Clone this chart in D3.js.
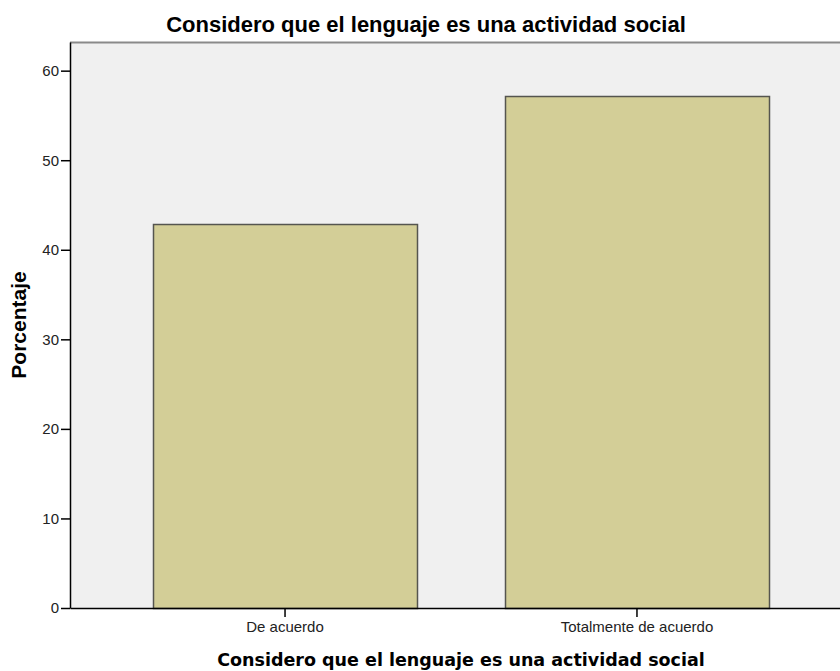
<!DOCTYPE html>
<html>
<head>
<meta charset="utf-8">
<script src="https://cdn.jsdelivr.net/npm/d3@7"></script>
<style>
  html, body { margin: 0; padding: 0; background: #ffffff; }
  svg { display: block; }
</style>
</head>
<body>
<svg id="chart" width="840" height="671"></svg>
<script>
const categories = ["De acuerdo", "Totalmente de acuerdo"];
const percentages = [42.86, 57.14];
const yTicks = [0, 10, 20, 30, 40, 50, 60];
const titleText = "Considero que el lenguaje es una actividad social";
const xLabelText = "Considero que el lenguaje es una actividad social";
const yLabelText = "Porcentaje";

const svg = d3.select("#chart");
const plot = { left: 70, top: 42, right: 852, bottom: 608 };

const x = d3.scaleBand()
  .domain(categories)
  .range([plot.left, plot.right])
  .paddingInner(0.25)
  .paddingOuter(0.236);

const y = d3.scaleLinear()
  .domain([0, 63.2])
  .range([plot.bottom, plot.top]);

// plot background
svg.append("rect")
  .attr("x", plot.left).attr("y", plot.top)
  .attr("width", plot.right - plot.left)
  .attr("height", plot.bottom - plot.top)
  .attr("fill", "#f0f0f0");

// top border
svg.append("line")
  .attr("x1", plot.left).attr("x2", plot.right)
  .attr("y1", plot.top + 0.5).attr("y2", plot.top + 0.5)
  .attr("stroke", "#8a8a8a").attr("stroke-width", 2);

// bars
svg.append("g").selectAll("rect")
  .data(categories)
  .join("rect")
  .attr("x", d => Math.round(x(d)) + 0.5)
  .attr("y", (d, i) => Math.round(y(percentages[i])) + 0.5)
  .attr("width", Math.round(x.bandwidth()))
  .attr("height", (d, i) => Math.round(y(0)) - Math.round(y(percentages[i])))
  .attr("fill", "#d3ce97")
  .attr("stroke", "#55554f")
  .attr("stroke-width", 1.5);

// y axis
const yAxis = svg.append("g")
  .attr("transform", `translate(${plot.left},0)`)
  .call(d3.axisLeft(y).tickValues(yTicks).tickSize(9).tickSizeOuter(0).tickPadding(2).tickFormat(d3.format("d")));
yAxis.select(".domain").attr("stroke", "#000").attr("stroke-width", 1.5);
yAxis.selectAll(".tick line").attr("stroke", "#000").attr("stroke-width", 1.5);
yAxis.selectAll(".tick text")
  .attr("font-family", "'Liberation Sans', Arial, sans-serif")
  .attr("font-size", 15).attr("fill", "#222");

// x axis
const xAxis = svg.append("g")
  .attr("transform", `translate(0,${plot.bottom})`)
  .call(d3.axisBottom(x).tickSize(9).tickPadding(4).tickSizeOuter(0));
xAxis.select(".domain").attr("stroke", "#000").attr("stroke-width", 1.5);
xAxis.selectAll(".tick line").attr("stroke", "#000").attr("stroke-width", 1.5);
xAxis.selectAll(".tick text")
  .attr("font-family", "'Liberation Sans', Arial, sans-serif")
  .attr("font-size", 15).attr("fill", "#222");

// title
svg.append("text")
  .attr("x", 426).attr("y", 32)
  .attr("text-anchor", "middle")
  .attr("font-family", "'Liberation Sans', Arial, sans-serif")
  .attr("font-weight", "bold")
  .attr("font-size", 22)
  .attr("fill", "#000")
  .text(titleText);

// x axis label
svg.append("text")
  .attr("x", (plot.left + plot.right) / 2).attr("y", 666)
  .attr("text-anchor", "middle")
  .attr("font-family", "'DejaVu Sans', Verdana, sans-serif")
  .attr("font-weight", "bold")
  .attr("font-size", 17.5)
  .attr("fill", "#000")
  .text(xLabelText);

// y axis label
svg.append("text")
  .attr("transform", `translate(26,${(plot.top + plot.bottom) / 2}) rotate(-90)`)
  .attr("text-anchor", "middle")
  .attr("font-family", "'Liberation Sans', Arial, sans-serif")
  .attr("font-weight", "bold")
  .attr("font-size", 21)
  .attr("fill", "#000")
  .text(yLabelText);
</script>
</body>
</html>
